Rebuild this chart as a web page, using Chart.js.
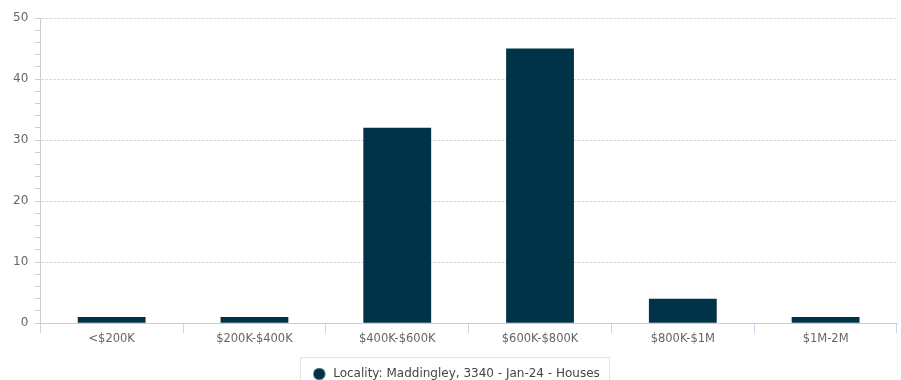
<!DOCTYPE html>
<html>
<head>
<meta charset="utf-8">
<script src="https://cdn.jsdelivr.net/npm/chart.js@4/dist/chart.umd.min.js"></script>
<style>
html,body{margin:0;padding:0;background:#fff;overflow:hidden;}
#wrap{width:901px;height:380px;position:relative;overflow:hidden;}
</style>
</head>
<body>
<div id="wrap"><canvas id="c" width="901" height="390"></canvas></div>
<script>
const categories = ['<$200K', '$200K-$400K', '$400K-$600K', '$600K-$800K', '$800K-$1M', '$1M-2M'];
const seriesName = 'Locality: Maddingley, 3340 - Jan-24 - Houses';
const seriesValues = [1, 1, 32, 45, 4, 1];
const yMin = 0, yMax = 50, yMajorStep = 10, yMinorStep = 2;

const barColor = '#003347';
const legendShiftX = 4;

// legend marker: a 12px filled circle
const marker = document.createElement('canvas');
marker.width = 13; marker.height = 13;
(function () {
  const m = marker.getContext('2d');
  m.fillStyle = barColor;
  m.beginPath();
  m.arc(6.5, 6.5, 6, 0, Math.PI * 2);
  m.fill();
})();

const legendBox = {
  id: 'legendBox',
  afterLayout(chart) {
    const lg = chart.legend;
    if (!lg || lg._shifted) return;
    const orig = lg.draw;
    lg.draw = function () {
      const ctx = chart.ctx;
      ctx.save();
      ctx.translate(legendShiftX, 0);
      orig.apply(this, arguments);
      ctx.restore();
    };
    lg._shifted = true;
  },
  afterDraw(chart) {
    const lg = chart.legend;
    if (!lg || !lg.legendHitBoxes || !lg.legendHitBoxes.length) return;
    const hb = lg.legendHitBoxes[0];
    const ctx = chart.ctx;
    ctx.save();
    ctx.strokeStyle = '#e3e3e3';
    ctx.lineWidth = 1;
    const cy = hb.top + hb.height / 2;
    const x = Math.round(hb.left - 11 + legendShiftX) + 0.5;
    const y = Math.round(cy - 17) + 0.5;
    const w = Math.round(hb.width + 20);
    ctx.strokeRect(x, y, w, 40);
    ctx.restore();
  }
};

Chart.defaults.font.family = '"DejaVu Sans", sans-serif';
Chart.defaults.font.size = 11;
Chart.defaults.color = '#666';

new Chart(document.getElementById('c'), {
  type: 'bar',
  data: {
    labels: categories,
    datasets: [{
      label: seriesName,
      data: seriesValues,
      backgroundColor: barColor,
      borderWidth: 0,
      categoryPercentage: 1,
      barPercentage: 0.475,
      pointStyle: marker
    }]
  },
  options: {
    responsive: false,
    animation: false,
    layout: { padding: { top: 18, right: 4, left: 6, bottom: 0 } },
    plugins: {
      tooltip: { enabled: false },
      legend: {
        position: 'bottom',
        labels: {
          usePointStyle: true,
          pointStyleWidth: 16,
          boxHeight: 12,
          color: '#444',
          font: { size: 12 },
          padding: 23
        }
      }
    },
    scales: {
      x: {
        grid: {
          offset: true,
          drawOnChartArea: false,
          drawTicks: true,
          tickLength: 10,
          tickColor: '#ccd6eb'
        },
        border: { color: '#ccc', width: 1 },
        ticks: { color: '#666', padding: -1, font: { size: 11.5 } }
      },
      y: {
        min: yMin,
        max: yMax,
        grid: {
          color: (c) => (c.tick && c.tick.value % yMajorStep === 0 && c.tick.value !== 0) ? '#d6dde8' : 'rgba(0,0,0,0)',
          tickColor: '#ccc',
          tickLength: 5,
          tickBorderDash: []
        },
        border: { color: '#ccc', width: 1, dash: [3, 1] },
        ticks: {
          stepSize: yMinorStep,
          autoSkip: false,
          color: '#666',
          padding: 7,
          font: { size: 12 },
          callback: (v) => (v % yMajorStep === 0 ? v : '')
        }
      }
    }
  },
  plugins: [legendBox]
});
</script>
</body>
</html>
